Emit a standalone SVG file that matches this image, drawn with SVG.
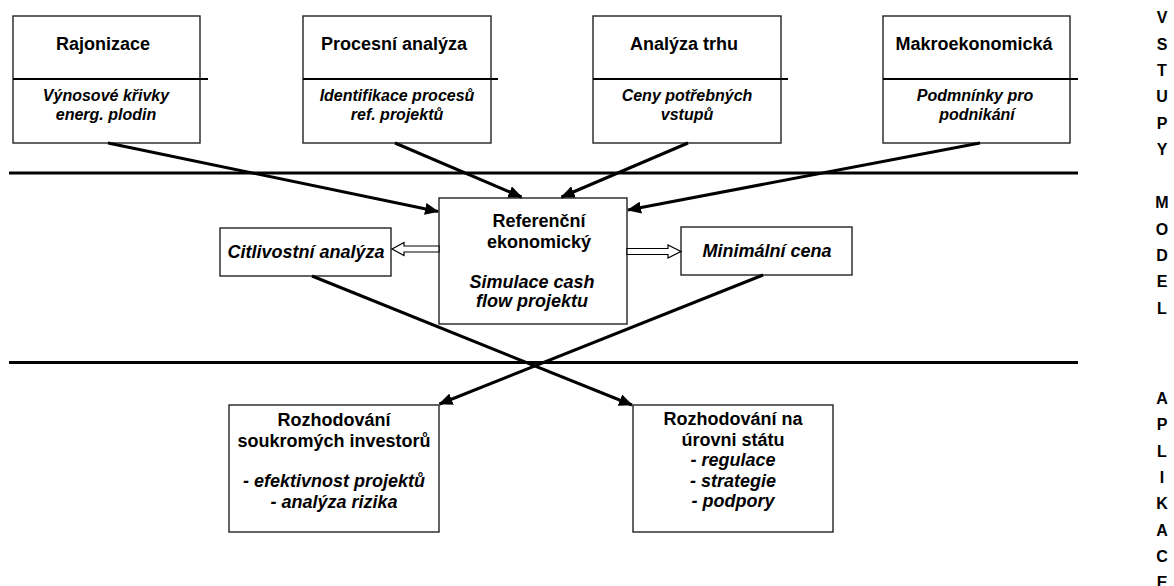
<svg xmlns="http://www.w3.org/2000/svg" width="1174" height="586" viewBox="0 0 1174 586">
<defs>
<style>
text{font-family:"Liberation Sans",Arial,sans-serif;font-weight:bold;fill:#000}
.t{font-size:18px;text-anchor:middle}
.s{font-size:16px;text-anchor:middle;font-style:italic}
.i{font-style:italic}
.box{fill:#fff;stroke:#222;stroke-width:1.4}
.div{stroke:#000;stroke-width:2}
.band{stroke:#000;stroke-width:3}
.con{stroke:#000;stroke-width:3;fill:none;marker-end:url(#ah)}
.hollow{fill:#fff;stroke:#000;stroke-width:1.2}
.side{font-size:16px;text-anchor:middle}
</style>
<marker id="ah" markerUnits="userSpaceOnUse" markerWidth="14" markerHeight="12" refX="13" refY="6" orient="auto">
<path d="M0,0 L14,6 L0,12 z" fill="#000"/>
</marker>
</defs>
<rect width="1174" height="586" fill="#fff"/>

<g id="bands">
<line class="band" x1="9" y1="173" x2="1078" y2="173"/>
<line class="band" x1="9" y1="362.5" x2="1078" y2="362.5"/>
</g>

<g id="rajonizace">
<rect class="box" x="13" y="16" width="187" height="127"/>
<line class="div" x1="13" y1="79" x2="208" y2="79"/>
<text class="t" x="103" y="50">Rajonizace</text>
<text class="s" x="106" y="101">Výnosové křivky</text>
<text class="s" x="106" y="120">energ. plodin</text>
</g>

<g id="procesni">
<rect class="box" x="303" y="16" width="188" height="127"/>
<line class="div" x1="303" y1="79" x2="498" y2="79"/>
<text class="t" x="394" y="50">Procesní analýza</text>
<text class="s" x="397" y="101">Identifikace procesů</text>
<text class="s" x="397" y="120">ref. projektů</text>
</g>

<g id="trh">
<rect class="box" x="593" y="16" width="188" height="127"/>
<line class="div" x1="593" y1="79" x2="788" y2="79"/>
<text class="t" x="684" y="50">Analýza trhu</text>
<text class="s" x="687" y="101">Ceny potřebných</text>
<text class="s" x="687" y="120">vstupů</text>
</g>

<g id="makro">
<rect class="box" x="883" y="16" width="187" height="127"/>
<line class="div" x1="883" y1="79" x2="1078" y2="79"/>
<text class="t" x="974" y="50">Makroekonomická</text>
<text class="s" x="975" y="101">Podmnínky pro</text>
<text class="s" x="977" y="120">podnikání</text>
</g>

<g id="referencni">
<rect class="box" x="439" y="198" width="188" height="126"/>
<text class="t" x="539" y="227">Referenční</text>
<text class="t" x="539" y="247.5">ekonomický</text>
<text class="t i" x="532" y="288">Simulace cash</text>
<text class="t i" x="532" y="307">flow projektu</text>
</g>

<g id="citlivost">
<rect class="box" x="220" y="228" width="171" height="48"/>
<text class="t i" x="306" y="258">Citlivostní analýza</text>
</g>

<g id="mincena">
<rect class="box" x="681" y="227" width="171" height="48"/>
<text class="t i" x="767" y="257">Minimální cena</text>
</g>

<g id="investori">
<rect class="box" x="229" y="405" width="210" height="127"/>
<text class="t" x="334" y="425.5">Rozhodování</text>
<text class="t" x="334" y="446.5">soukromých investorů</text>
<text class="t i" x="334" y="487">- efektivnost projektů</text>
<text class="t i" x="334" y="507.5">- analýza rizika</text>
</g>

<g id="stat">
<rect class="box" x="633" y="405" width="200" height="127"/>
<text class="t" x="733" y="425">Rozhodování na</text>
<text class="t" x="733" y="446">úrovni státu</text>
<text class="t i" x="733" y="466">- regulace</text>
<text class="t i" x="733" y="487">- strategie</text>
<text class="t i" x="733" y="507">- podpory</text>
</g>

<g id="connectors">
<line class="con" x1="108" y1="143" x2="438" y2="211.5"/>
<line class="con" x1="395" y1="143" x2="521.5" y2="197"/>
<line class="con" x1="688" y1="143" x2="561.5" y2="197"/>
<line class="con" x1="980" y1="143" x2="628" y2="210"/>
<line class="con" x1="312" y1="276" x2="632" y2="405"/>
<line class="con" x1="763" y1="275" x2="439.5" y2="404"/>
<polygon class="hollow" points="439,246 404,246 404,242.5 392,249 404,255.5 404,252 439,252"/>
<polygon class="hollow" points="627,248.5 668,248.5 668,245 681,251.5 668,258 668,254.5 627,254.5"/>
</g>

<g id="labels">
<text class="side" x="1162" y="23">V</text>
<text class="side" x="1162" y="49.5">S</text>
<text class="side" x="1162" y="76">T</text>
<text class="side" x="1162" y="102">U</text>
<text class="side" x="1162" y="128.5">P</text>
<text class="side" x="1162" y="155">Y</text>
<text class="side" x="1162" y="208">M</text>
<text class="side" x="1162" y="234.5">O</text>
<text class="side" x="1162" y="261">D</text>
<text class="side" x="1162" y="287">E</text>
<text class="side" x="1162" y="313.5">L</text>
<text class="side" x="1162" y="404">A</text>
<text class="side" x="1162" y="430">P</text>
<text class="side" x="1162" y="456.5">L</text>
<text class="side" x="1162" y="483">I</text>
<text class="side" x="1162" y="509">K</text>
<text class="side" x="1162" y="535.5">A</text>
<text class="side" x="1162" y="562">C</text>
<text class="side" x="1162" y="588">E</text>
</g>
</svg>
